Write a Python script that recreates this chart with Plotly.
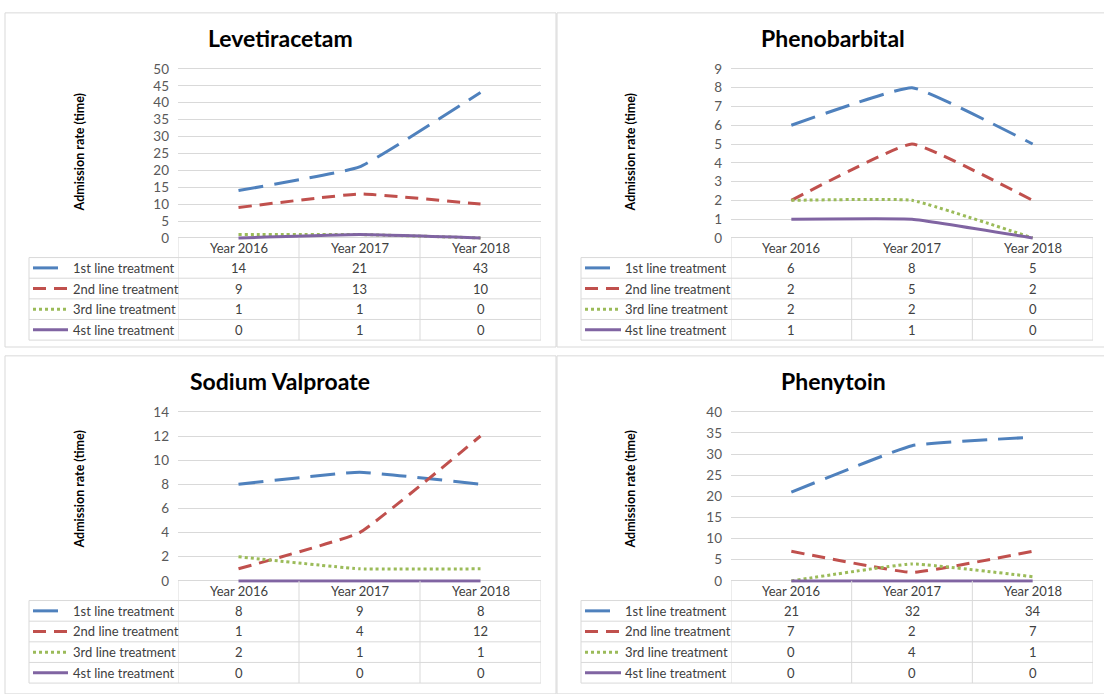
import plotly.graph_objects as go

W, H = 1104, 694

# ---------------- data ----------------
years = ["Year 2016", "Year 2017", "Year 2018"]
series_names = ["1st line treatment", "2nd line treatment", "3rd line treatment", "4st line treatment"]
drug_names = ["Levetiracetam", "Phenobarbital", "Sodium Valproate", "Phenytoin"]

levetiracetam = [[14, 21, 43], [9, 13, 10], [1, 1, 0], [0, 1, 0]]
phenobarbital = [[6, 8, 5], [2, 5, 2], [2, 2, 0], [1, 1, 0]]
sodium_valproate = [[8, 9, 8], [1, 4, 12], [2, 1, 1], [0, 0, 0]]
phenytoin = [[21, 32, 34], [7, 2, 7], [0, 4, 1], [0, 0, 0]]

y_max = [50, 9, 14, 40]
y_step = [5, 1, 2, 5]
y_title = "Admission rate (time)"

# ---------------- styles ----------------
colors = ["#4F81BD", "#C0504D", "#9BBB59", "#8064A2"]
dashes = ["25px,11px", "13px,8px", "3px,3px", "solid"]
FONT = "Lato"
GRID = "#D9D9D9"

all_values = [levetiracetam, phenobarbital, sodium_valproate, phenytoin]

# panel geometry in pixels
col_geom = [
    dict(px0=178, px1=541, tl=29, ls0=33, ls1=68, lt=71, ytx=79, box0=5, box1=556, tcx=280),
    dict(px0=731, px1=1093, tl=581, ls0=585, ls1=621, lt=623, ytx=630, box0=557, box1=1112, tcx=833),
]
row_geom = [
    dict(pt=64, pb=236, tty=33, yty=149, box0=7, box1=347),
    dict(pt=413, pb=585, tty=382, yty=492, box0=356, box1=700),
]
row_offsets = [0, 20, 41, 62, 83, 104]


def fx(x):
    return x / W


def fy(y):
    return 1 - y / H


fig = go.Figure()
shapes = []
annotations = []
PAD = 2  # px extension of plot area so lines at 0 are not clipped

for k, vals in enumerate(all_values):
    cg = col_geom[k % 2]
    rg = row_geom[k // 2]
    ax = "" if k == 0 else str(k + 1)
    xa, ya = "x" + ax, "y" + ax
    ph = rg["pb"] - rg["pt"]
    ext = y_max[k] * PAD / ph

    fig.update_layout(**{
        "xaxis" + ax: dict(
            domain=[fx(cg["px0"]), fx(cg["px1"])],
            anchor=ya, type="category", range=[-0.5, 2.5],
            showticklabels=False, showgrid=False, zeroline=False, showline=False,
            fixedrange=True,
        ),
        "yaxis" + ax: dict(
            domain=[fy(rg["pb"] + PAD), fy(rg["pt"] - PAD)],
            anchor=xa, range=[-ext, y_max[k] + ext],
            tickmode="linear", tick0=0, dtick=y_step[k],
            showgrid=True, gridcolor=GRID, gridwidth=1,
            zeroline=False, showline=False, ticks="",
            ticklabelstandoff=8,
            tickfont=dict(family=FONT, size=13.5, color="#595959"),
            fixedrange=True,
        ),
    })

    for s, series in enumerate(vals):
        fig.add_trace(go.Scatter(
            x=years, y=series, mode="lines", name=series_names[s],
            line=dict(color=colors[s], width=3, dash=dashes[s], shape="spline", smoothing=0.3),
            xaxis=xa, yaxis=ya, showlegend=False, hoverinfo="x+y+name",
        ))

    # title
    annotations.append(dict(
        text="<b>%s</b>" % drug_names[k], xref="paper", yref="paper",
        x=fx(cg["tcx"]), y=fy(rg["tty"]), xanchor="center", yanchor="middle",
        showarrow=False, font=dict(family=FONT, size=23, color="#000000"),
    ))
    # y-axis title
    annotations.append(dict(
        text="<b>%s</b>" % y_title, xref="paper", yref="paper",
        x=fx(cg["ytx"]), y=fy(rg["yty"]), xanchor="center", yanchor="middle",
        textangle=-90, showarrow=False, font=dict(family=FONT, size=12.5, color="#000000"),
    ))

    # panel border
    shapes.append(dict(
        type="rect", xref="paper", yref="paper",
        x0=fx(cg["box0"]), x1=fx(cg["box1"]), y0=fy(rg["box1"]), y1=fy(rg["box0"]),
        line=dict(color=GRID, width=1), fillcolor="rgba(0,0,0,0)", layer="below",
    ))

    # data table
    yb = rg["pb"]
    ys = [yb + o for o in row_offsets]
    for b in [-0.5, 0.5, 1.5, 2.5]:
        shapes.append(dict(type="line", xref=xa, yref="paper", x0=b, x1=b,
                           y0=fy(ys[0]), y1=fy(ys[-1]), line=dict(color=GRID, width=1)))
    shapes.append(dict(type="line", xref="paper", yref="paper", x0=fx(cg["tl"]), x1=fx(cg["tl"]),
                       y0=fy(ys[1]), y1=fy(ys[-1]), line=dict(color=GRID, width=1)))
    for yy in ys[1:]:
        shapes.append(dict(type="line", xref="paper", yref="paper", x0=fx(cg["tl"]), x1=fx(cg["px1"]),
                           y0=fy(yy), y1=fy(yy), line=dict(color=GRID, width=1)))
    for j, yr in enumerate(years):
        annotations.append(dict(
            text=yr, xref=xa, yref="paper", x=yr, y=fy((ys[0] + ys[1]) / 2),
            xanchor="center", yanchor="middle", showarrow=False,
            font=dict(family=FONT, size=13, color="#404040"),
        ))
    for s, series in enumerate(vals):
        yc = fy((ys[s + 1] + ys[s + 2]) / 2)
        shapes.append(dict(type="line", xref="paper", yref="paper", x0=fx(cg["ls0"]), x1=fx(cg["ls1"]),
                           y0=yc, y1=yc, line=dict(color=colors[s], width=3, dash=dashes[s])))
        annotations.append(dict(
            text=series_names[s], xref="paper", yref="paper", x=fx(cg["lt"]), y=yc,
            xanchor="left", yanchor="middle", showarrow=False,
            font=dict(family=FONT, size=13, color="#404040"),
        ))
        for j, v in enumerate(series):
            annotations.append(dict(
                text=str(v), xref=xa, yref="paper", x=years[j], y=yc,
                xanchor="center", yanchor="middle", showarrow=False,
                font=dict(family=FONT, size=13, color="#404040"),
            ))

fig.update_layout(
    width=W, height=H, margin=dict(l=0, r=0, t=0, b=0),
    paper_bgcolor="white", plot_bgcolor="white",
    shapes=shapes, annotations=annotations, showlegend=False,
    font=dict(family=FONT, color="#595959"),
)

fig.write_html(
    "out.html",
    config={"displayModeBar": False},
    post_script="document.body.style.margin='0';document.body.style.overflow='hidden';",
)
